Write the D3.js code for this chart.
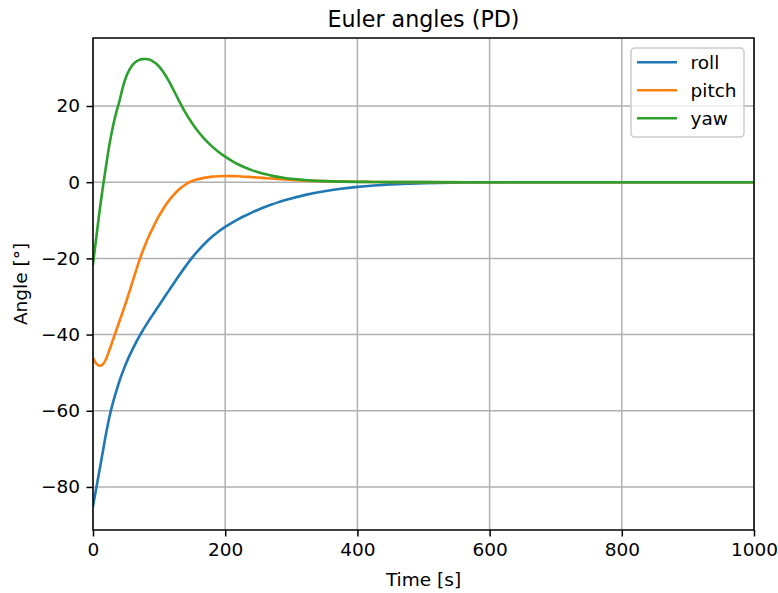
<!DOCTYPE html>
<html>
<head>
<meta charset="utf-8">
<script src="https://cdn.jsdelivr.net/npm/d3@7"></script>
<style>
  html, body { margin: 0; padding: 0; background: #fff; }
  svg { display: block; font-family: "DejaVu Sans", sans-serif; }
</style>
</head>
<body>
<svg id="chart" width="778" height="593"></svg>
<script>
const time  = [0,5,10,15,20,25,30,35,40,45,50,55,60,65,70,75,80,85,90,95,100,105,
               110,115,120,130,140,150,160,170,180,190,200,210,220,230,240,250,260,270,280,290,300,
               325,350,375,400,425,450,475,500,600,700,800,900,1000];
const roll  = [-85,-80.3,-75.5,-70.6,-65.8,-61.5,-58,-55,-52.2,-49.8,-47.6,-45.6,-43.8,-42.1,-40.5,-39,-37.6,-36.2,-34.9,-33.6,-32.3,-31,
               -29.7,-28.4,-27.1,-24.55,-22.1,-19.8,-17.75,-15.95,-14.35,-12.95,-11.75,-10.67,-9.7,-8.8,-7.98,-7.22,-6.52,-5.88,-5.3,-4.77,-4.28,
               -3.2,-2.36,-1.72,-1.23,-0.86,-0.58,-0.39,-0.25,-0.05,-0.01,0,0,0];
const pitch = [-46.2,-47.6,-48.2,-47.8,-46.3,-44,-41.5,-39,-36.5,-34,-31.5,-28.8,-26,-23.3,-20.6,-18.2,-16,-14,-12.2,-10.4,-8.8,-7.35,
               -6,-4.8,-3.7,-1.9,-0.6,0.3,0.85,1.2,1.45,1.57,1.62,1.6,1.54,1.44,1.32,1.2,1.07,0.95,0.83,0.72,0.62,
               0.42,0.27,0.17,0.1,0.06,0.035,0.02,0.01,0,0,0,0,0];
const yaw   = [-21.5,-14.5,-7.5,-1.2,4.5,10,14.5,18.2,21.3,24.8,27.6,29.5,30.8,31.6,32.1,32.3,32.35,32.2,31.8,31.2,30.35,29.25,
               27.95,26.45,24.85,21.4,18.2,15.5,13.1,11.1,9.4,7.95,6.7,5.6,4.65,3.85,3.17,2.6,2.12,1.72,1.39,1.12,0.9,
               0.5,0.28,0.16,0.09,0.05,0.03,0.015,0.01,0,0,0,0,0];
const seriesNames = ["roll","pitch","yaw"];
const seriesColors = ["#1f77b4","#ff7f0e","#2ca02c"];
const xTicks = [0,200,400,600,800,1000];
const yTicks = [-80,-60,-40,-20,0,20];

const svg = d3.select("#chart");
const L = 93, R = 754, T = 38, B = 530;
const x = d3.scaleLinear().domain([0,1000]).range([L,R]);
const y = d3.scaleLinear().domain([-91.3,37.85]).range([B,T]);
const fs = 18.5;

// grid
const g = svg.append("g");
g.selectAll(".gx").data(xTicks).enter().append("line")
  .attr("x1", d=>x(d)).attr("x2", d=>x(d)).attr("y1", T).attr("y2", B)
  .attr("stroke", "#b0b0b0").attr("stroke-width", 1.5);
g.selectAll(".gy").data(yTicks).enter().append("line")
  .attr("x1", L).attr("x2", R).attr("y1", d=>y(d)).attr("y2", d=>y(d))
  .attr("stroke", "#b0b0b0").attr("stroke-width", 1.5);

// clip
svg.append("clipPath").attr("id","clip").append("rect")
  .attr("x", L).attr("y", T).attr("width", R-L).attr("height", B-T);

const line = d3.line().x(d=>x(d[0])).y(d=>y(d[1])).curve(d3.curveCatmullRom.alpha(0.5));
const allSeries = [roll, pitch, yaw];
allSeries.forEach((vals, i) => {
  svg.append("path")
    .datum(time.map((t,j)=>[t, vals[j]]))
    .attr("clip-path","url(#clip)")
    .attr("fill","none")
    .attr("stroke", seriesColors[i])
    .attr("stroke-width", 2.6)
    .attr("stroke-linejoin","round")
    .attr("stroke-linecap","square")
    .attr("d", line);
});

// axes
const fmt = d => d < 0 ? "\u2212" + Math.abs(d) : String(d);
const xAxis = svg.append("g").attr("transform", `translate(0,${B})`)
  .call(d3.axisBottom(x).tickValues(xTicks).tickSize(6.5).tickPadding(6.5).tickFormat(fmt));
const yAxis = svg.append("g").attr("transform", `translate(${L},0)`)
  .call(d3.axisLeft(y).tickValues(yTicks).tickSize(6.5).tickPadding(6.5).tickFormat(fmt));
[xAxis, yAxis].forEach(a => {
  a.select(".domain").remove();
  a.selectAll(".tick line").attr("stroke","#000").attr("stroke-width",1.5);
  a.selectAll(".tick text").attr("fill","#000").attr("font-size", fs)
    .attr("font-family","DejaVu Sans");
});

// spines
svg.append("rect").attr("x", L).attr("y", T).attr("width", R-L).attr("height", B-T)
  .attr("fill","none").attr("stroke","#000").attr("stroke-width",1.5);

// title & labels
svg.append("text").attr("x", (L+R)/2).attr("y", 27).attr("text-anchor","middle")
  .attr("font-size", 22.2).attr("fill","#000").text("Euler angles (PD)");
svg.append("text").attr("x", (L+R)/2).attr("y", 586).attr("text-anchor","middle")
  .attr("font-size", fs).attr("fill","#000").text("Time [s]");
svg.append("text").attr("transform", `translate(27,${(T+B)/2}) rotate(-90)`)
  .attr("text-anchor","middle").attr("font-size", fs).attr("fill","#000").text("Angle [°]");

// legend
const lg = svg.append("g");
lg.append("rect").attr("x", 631).attr("y", 48).attr("width", 113).attr("height", 89)
  .attr("rx", 3.7).attr("fill","#fff").attr("fill-opacity",0.8)
  .attr("stroke","#cccccc").attr("stroke-width",1.5);
seriesNames.forEach((n,i) => {
  const yy = 62.3 + i*28;
  lg.append("line").attr("x1",637).attr("x2",677).attr("y1",yy).attr("y2",yy)
    .attr("stroke", seriesColors[i]).attr("stroke-width",2.6);
  lg.append("text").attr("x",690.5).attr("y",yy+6.5).attr("font-size",fs)
    .attr("fill","#000").text(n);
});
</script>
</body>
</html>
